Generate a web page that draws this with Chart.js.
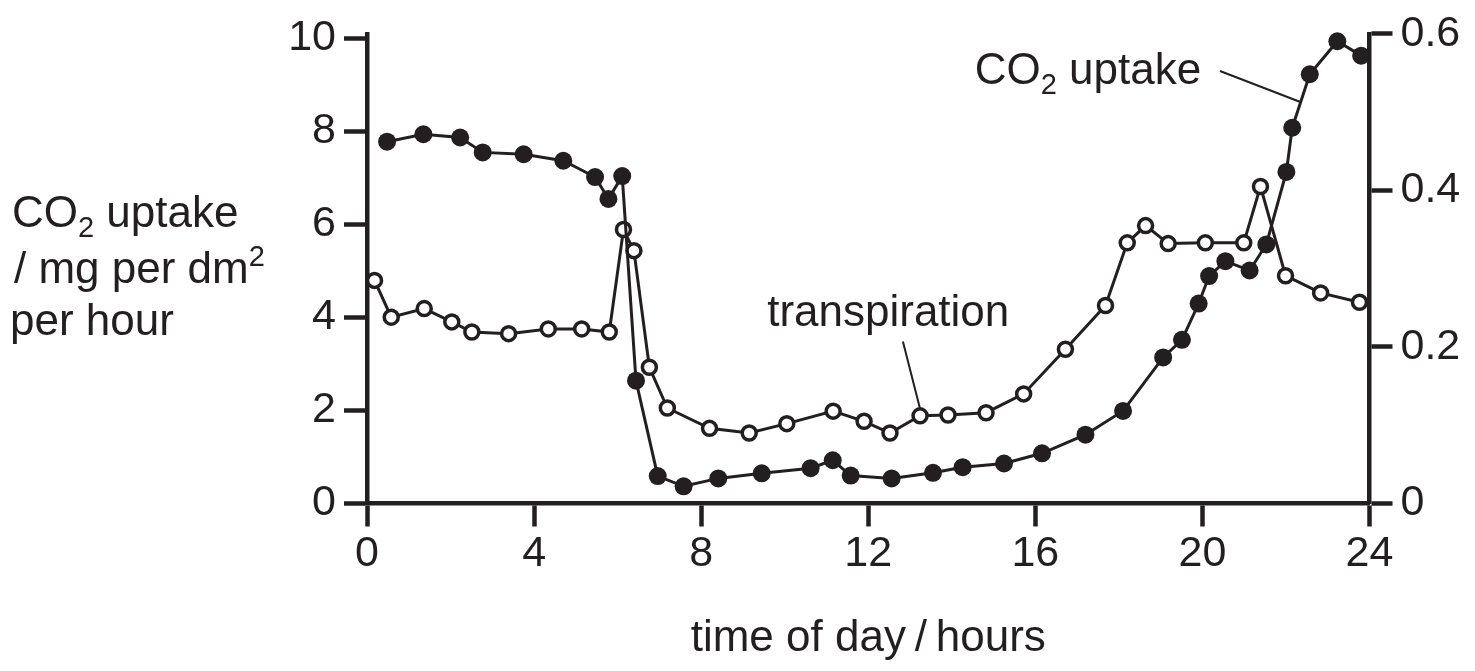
<!DOCTYPE html>
<html>
<head>
<meta charset="utf-8">
<script src="https://cdn.jsdelivr.net/npm/chart.js@4.4.0/dist/chart.umd.min.js"></script>
<style>
html, body { margin: 0; padding: 0; background: #fff; }
</style>
</head>
<body>
<canvas id="graph" width="1475" height="671"></canvas>
<script>
var ink = '#231f20';
var face = '"Liberation Sans", Arial, Helvetica, sans-serif';

// CO2 uptake (filled circles), left axis, mg per dm2 per hour
var co2Hours = [0.48, 1.35, 2.23, 2.77, 3.75, 4.70, 5.46, 5.78, 6.11, 6.44, 6.96, 7.58, 8.41, 9.45,
  10.62, 11.15, 11.58, 12.56, 13.55, 14.26, 15.25, 16.16, 17.20, 18.10, 19.06, 19.51, 19.91,
  20.16, 20.55, 21.13, 21.53, 22.01, 22.15, 22.57, 23.23, 23.80];
var co2Uptake = [7.78, 7.94, 7.87, 7.55, 7.51, 7.37, 7.02, 6.55, 7.04, 2.64, 0.59, 0.37, 0.54, 0.65,
  0.76, 0.93, 0.60, 0.54, 0.66, 0.78, 0.86, 1.08, 1.48, 1.99, 3.14, 3.52, 4.30,
  4.89, 5.21, 5.01, 5.57, 7.13, 8.08, 9.23, 9.94, 9.63];

// transpiration (open circles), right axis
var transpHours = [0.18, 0.58, 1.37, 2.03, 2.51, 3.39, 4.34, 5.14, 5.80, 6.14, 6.39, 6.76, 7.19, 8.20,
  9.15, 10.05, 11.16, 11.90, 12.52, 13.24, 13.91, 14.82, 15.72, 16.72, 17.68, 18.20, 18.64,
  19.18, 20.07, 20.99, 21.39, 21.99, 22.83, 23.76];
var transpiration = [0.285, 0.238, 0.249, 0.232, 0.219, 0.217, 0.223, 0.223, 0.219, 0.350, 0.323, 0.174, 0.122, 0.096,
  0.090, 0.102, 0.118, 0.105, 0.090, 0.112, 0.113, 0.116, 0.140, 0.197, 0.253, 0.333, 0.355,
  0.332, 0.333, 0.333, 0.405, 0.291, 0.269, 0.257];

var hourTicks = [0, 4, 8, 12, 16, 20, 24];
var co2Ticks = [0, 2, 4, 6, 8, 10];
var transpTicks = [0, 0.2, 0.4, 0.6];

function pairs(xs, ys) {
  var out = [];
  for (var i = 0; i < xs.length; i++) out.push({x: xs[i], y: ys[i]});
  return out;
}

function fixTicks(list) {
  return function(scale) {
    scale.ticks = list.map(function(v) { return {value: v}; });
  };
}

// text made of pieces with their own size and baseline shift (for subscripts etc.)
function runs(c, x, y, parts) {
  for (var i = 0; i < parts.length; i++) {
    c.font = parts[i][1] + 'px ' + face;
    c.fillText(parts[i][0], x, y + parts[i][2]);
    x += c.measureText(parts[i][0]).width;
  }
}

var labels = {
  id: 'labels',
  afterDraw: function(chart) {
    var c = chart.ctx;
    var sx = chart.scales.x, sy = chart.scales.y, sr = chart.scales.y2;
    c.save();
    c.fillStyle = ink;
    c.strokeStyle = ink;
    c.textAlign = 'left';
    c.textBaseline = 'alphabetic';

    // left axis title
    runs(c, 12, 227, [['CO', 44, 0], ['2', 29, 10], [' uptake', 44, 0]]);
    runs(c, 14, 283, [['/ mg per dm', 44, 0], ['2', 29, -17]]);
    runs(c, 10, 335, [['per hour', 44, 0]]);

    // curve labels
    runs(c, sx.getPixelForValue(14.55), sy.getPixelForValue(9.02), [['CO', 44, 0], ['2', 29, 10], [' uptake', 44, 0]]);
    runs(c, sx.getPixelForValue(9.58), sy.getPixelForValue(3.82), [['transpiration', 44, 0]]);

    // leader lines
    c.lineWidth = 2;
    c.beginPath();
    c.moveTo(sx.getPixelForValue(20.42), sy.getPixelForValue(9.30));
    c.lineTo(sx.getPixelForValue(22.33), sy.getPixelForValue(8.64));
    c.moveTo(sx.getPixelForValue(12.83), sr.getPixelForValue(0.207));
    c.lineTo(sx.getPixelForValue(13.24), sr.getPixelForValue(0.121));
    c.stroke();
    c.restore();
  }
};

var axisGrid = {
  display: true,
  drawOnChartArea: false,
  drawTicks: true,
  tickLength: 23,
  tickWidth: 4.5,
  tickColor: ink,
  color: ink
};
var axisBorder = {display: true, color: ink, width: 4.5};

new Chart(document.getElementById('graph'), {
  type: 'scatter',
  data: {
    datasets: [
      {
        label: 'CO2 uptake',
        data: pairs(co2Hours, co2Uptake),
        showLine: true,
        yAxisID: 'y',
        borderColor: ink,
        borderWidth: 3,
        pointRadius: 9,
        pointBorderWidth: 0,
        pointBackgroundColor: ink,
        clip: false
      },
      {
        label: 'transpiration',
        data: pairs(transpHours, transpiration),
        showLine: true,
        yAxisID: 'y2',
        borderColor: ink,
        borderWidth: 3,
        pointRadius: 7,
        pointBorderWidth: 3.5,
        pointBorderColor: ink,
        pointBackgroundColor: '#fff',
        clip: false
      }
    ]
  },
  options: {
    responsive: false,
    animation: false,
    layout: {padding: {top: 26, left: 0, right: 0, bottom: 0}},
    plugins: {legend: {display: false}, tooltip: {enabled: false}},
    scales: {
      x: {
        type: 'linear',
        min: 0,
        max: 24,
        afterBuildTicks: fixTicks(hourTicks),
        afterFit: function(s) { s.height = 167.5; },
        grid: axisGrid,
        border: axisBorder,
        ticks: {color: ink, font: {family: face, size: 43}, padding: 2, maxRotation: 0},
        title: {
          display: true,
          text: 'time of day\u2009/\u2009hours',
          color: ink,
          font: {family: face, size: 44},
          padding: {top: 0, bottom: 6}
        }
      },
      y: {
        position: 'left',
        min: 0,
        max: 10.1,
        afterBuildTicks: fixTicks(co2Ticks),
        afterFit: function(s) { s.width = 367; },
        grid: axisGrid,
        border: axisBorder,
        ticks: {color: ink, font: {family: face, size: 43}, padding: 8}
      },
      y2: {
        position: 'right',
        min: 0,
        max: 0.6,
        afterBuildTicks: fixTicks(transpTicks),
        afterFit: function(s) { s.width = 105.5; },
        grid: axisGrid,
        border: axisBorder,
        ticks: {
          color: ink, font: {family: face, size: 43}, padding: 8,
          callback: function(v) { return v === 0 ? '0' : v.toFixed(1); }
        }
      }
    }
  },
  plugins: [labels]
});
</script>
</body>
</html>
